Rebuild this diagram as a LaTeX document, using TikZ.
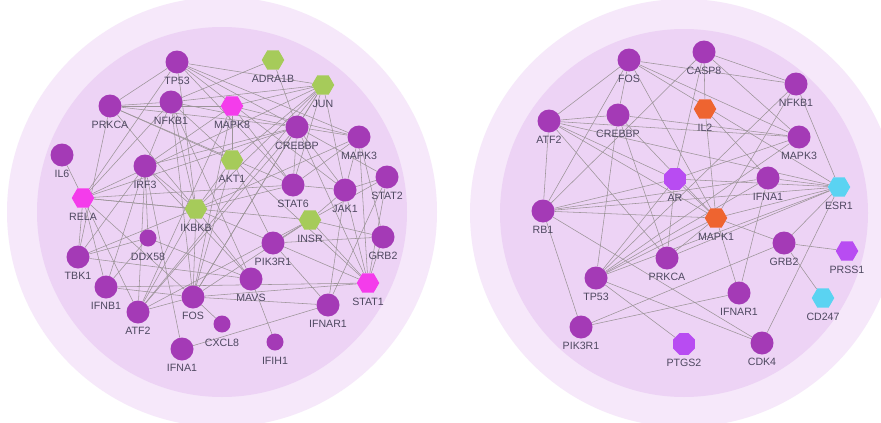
\documentclass[tikz,border=0pt]{standalone}
\usepackage{fontspec}
\setmainfont{Liberation Sans}
\usetikzlibrary{shapes.geometric}
\pgfdeclarelayer{bg}
\pgfdeclarelayer{edgelayer}
\pgfsetlayers{bg,edgelayer,main}
\definecolor{outerring}{HTML}{F6E8FA}
\definecolor{innerdisc}{HTML}{EDD3F5}
\definecolor{nodepurple}{HTML}{A43AB6}
\definecolor{nodemagenta}{HTML}{F43CEB}
\definecolor{nodegreen}{HTML}{A6CB5A}
\definecolor{nodeorange}{HTML}{EE6430}
\definecolor{nodecyan}{HTML}{5AD3F2}
\definecolor{nodeviolet}{HTML}{B84CF2}
\definecolor{labelc}{HTML}{4E4860}
\definecolor{edgec}{HTML}{9C9498}
\tikzset{
  pc/.style={circle, fill=nodepurple, minimum size=23pt, inner sep=0pt},
  sc/.style={circle, fill=nodepurple, minimum size=17pt, inner sep=0pt},
  hx/.style={regular polygon, regular polygon sides=6, minimum size=22.5pt, inner sep=0pt},
  oc/.style={regular polygon, regular polygon sides=8, minimum size=23.5pt, inner sep=0pt},
  lab/.style={font=\fontsize{10.6}{12}\selectfont, text=labelc, inner sep=0pt},
  edgeline/.style={draw=edgec, line width=0.55pt},
}
\newcommand\gene[5]{%
  \node[#4] (#1) at (#2,#3) {};
  \node[lab] (#1-l) at (#2,#3+18.5) {#5};}
\begin{document}
\begin{tikzpicture}[x=1pt,y=-1pt]
\useasboundingbox (0,0) rectangle (881,423);
\clip (0,0) rectangle (881,423);
\begin{pgfonlayer}{bg}
  \fill[white] (0,0) rectangle (881,423);
  \fill[outerring] (222,212) circle[radius=215];
  \fill[innerdisc] (222,212) circle[radius=185];
  \fill[outerring] (684,213) circle[radius=214];
  \fill[innerdisc] (684,213) circle[radius=184];
\end{pgfonlayer}
% ---------------- left network ----------------
\gene{L-TP53}{177}{62}{pc}{TP53}
\gene{L-ADRA1B}{273}{60}{hx,fill=nodegreen}{ADRA1B}
\gene{L-JUN}{323}{85}{hx,fill=nodegreen}{JUN}
\gene{L-PRKCA}{110}{106}{pc}{PRKCA}
\gene{L-NFKB1}{171}{102}{pc}{NFKB1}
\gene{L-MAPK8}{232}{106}{hx,fill=nodemagenta}{MAPK8}
\gene{L-CREBBP}{297}{127}{pc}{CREBBP}
\gene{L-MAPK3}{359}{137}{pc}{MAPK3}
\gene{L-IL6}{62}{155}{pc}{IL6}
\gene{L-IRF3}{145}{166}{pc}{IRF3}
\gene{L-AKT1}{232}{160}{hx,fill=nodegreen}{AKT1}
\gene{L-STAT6}{293}{185}{pc}{STAT6}
\gene{L-JAK1}{345}{190}{pc}{JAK1}
\gene{L-STAT2}{387}{177}{pc}{STAT2}
\gene{L-RELA}{83}{198}{hx,fill=nodemagenta}{RELA}
\gene{L-IKBKB}{196}{209}{hx,fill=nodegreen}{IKBKB}
\gene{L-INSR}{310}{220}{hx,fill=nodegreen}{INSR}
\gene{L-GRB2}{383}{237}{pc}{GRB2}
\gene{L-DDX58}{148}{238}{sc}{DDX58}
\gene{L-PIK3R1}{273}{243}{pc}{PIK3R1}
\gene{L-TBK1}{78}{257}{pc}{TBK1}
\gene{L-IFNB1}{106}{287}{pc}{IFNB1}
\gene{L-MAVS}{251}{279}{pc}{MAVS}
\gene{L-STAT1}{368}{283}{hx,fill=nodemagenta}{STAT1}
\gene{L-FOS}{193}{297}{pc}{FOS}
\gene{L-ATF2}{138}{312}{pc}{ATF2}
\gene{L-IFNAR1}{328}{305}{pc}{IFNAR1}
\gene{L-CXCL8}{222}{324}{sc}{CXCL8}
\gene{L-IFIH1}{275}{342}{sc}{IFIH1}
\gene{L-IFNA1}{182}{349}{pc}{IFNA1}
% ---------------- right network ----------------
\gene{R-FOS}{629}{60}{pc}{FOS}
\gene{R-CASP8}{704}{52}{pc}{CASP8}
\gene{R-NFKB1}{796}{84}{pc}{NFKB1}
\gene{R-IL2}{705}{109}{hx,fill=nodeorange}{IL2}
\gene{R-ATF2}{549}{121}{pc}{ATF2}
\gene{R-CREBBP}{618}{115}{pc}{CREBBP}
\gene{R-MAPK3}{799}{137}{pc}{MAPK3}
\gene{R-AR}{675}{179}{oc,fill=nodeviolet}{AR}
\gene{R-IFNA1}{768}{178}{pc}{IFNA1}
\gene{R-ESR1}{839}{187}{hx,fill=nodecyan}{ESR1}
\gene{R-RB1}{543}{211}{pc}{RB1}
\gene{R-MAPK1}{716}{218}{hx,fill=nodeorange}{MAPK1}
\gene{R-GRB2}{784}{243}{pc}{GRB2}
\gene{R-PRSS1}{847}{251}{hx,fill=nodeviolet}{PRSS1}
\gene{R-PRKCA}{667}{258}{pc}{PRKCA}
\gene{R-TP53}{596}{278}{pc}{TP53}
\gene{R-IFNAR1}{739}{293}{pc}{IFNAR1}
\gene{R-CD247}{823}{298}{hx,fill=nodecyan}{CD247}
\gene{R-PIK3R1}{581}{327}{pc}{PIK3R1}
\gene{R-PTGS2}{684}{344}{oc,fill=nodeviolet}{PTGS2}
\gene{R-CDK4}{762}{343}{pc}{CDK4}
\begin{pgfonlayer}{edgelayer}
\foreach \a/\b in {
 TP53/PRKCA, TP53/CREBBP, TP53/MAPK3, TP53/JUN, TP53/STAT6, TP53/IKBKB, TP53/JAK1, TP53/RELA,
 PRKCA/NFKB1, PRKCA/MAPK8, PRKCA/CREBBP, PRKCA/TBK1, PRKCA/IKBKB, PRKCA/STAT6, PRKCA/AKT1,
 NFKB1/IKBKB, NFKB1/FOS, NFKB1/RELA, NFKB1/IRF3, NFKB1/CREBBP, NFKB1/JUN, NFKB1/MAVS, NFKB1/STAT1, NFKB1/ADRA1B,
 MAPK8/JUN, MAPK8/ATF2, MAPK8/FOS, MAPK8/STAT6, MAPK8/IRF3, MAPK8/MAPK3,
 ADRA1B/CREBBP,
 JUN/CREBBP, JUN/JAK1, JUN/FOS, JUN/ATF2, JUN/IKBKB, JUN/RELA, JUN/STAT6,
 CREBBP/MAPK3, CREBBP/STAT6, CREBBP/STAT1, CREBBP/IRF3, CREBBP/RELA, CREBBP/ATF2, CREBBP/FOS, CREBBP/STAT2, CREBBP/JAK1,
 MAPK3/STAT1, MAPK3/GRB2, MAPK3/IKBKB, MAPK3/STAT6, MAPK3/JAK1,
 IL6/RELA,
 IRF3/TBK1, IRF3/IKBKB, IRF3/MAVS, IRF3/IFNB1, IRF3/DDX58, IRF3/ATF2, IRF3/IFNA1,
 AKT1/MAPK8, AKT1/IKBKB, AKT1/PIK3R1, AKT1/JUN, AKT1/FOS,
 STAT6/JAK1, STAT6/IKBKB, STAT6/RELA,
 JAK1/STAT2, JAK1/STAT1, JAK1/IFNAR1, JAK1/INSR,
 STAT2/STAT1, STAT2/IFNAR1, STAT2/INSR,
 RELA/TBK1, RELA/IKBKB, RELA/IFNB1, RELA/FOS, RELA/ATF2, RELA/INSR,
 IKBKB/FOS, IKBKB/TBK1, IKBKB/MAVS, IKBKB/STAT1, IKBKB/ATF2,
 INSR/GRB2, INSR/PIK3R1, INSR/STAT1, INSR/ATF2, INSR/FOS,
 GRB2/PIK3R1, GRB2/STAT1,
 DDX58/MAVS, DDX58/IFNB1, DDX58/TBK1,
 PIK3R1/IFNAR1,
 TBK1/MAVS,
 IFNB1/FOS, IFNB1/STAT1,
 MAVS/IFIH1,
 FOS/ATF2, FOS/CXCL8, FOS/STAT1, FOS/IFNAR1,
 IFNAR1/IFNA1}
 \draw[edgeline] (L-\a) -- (L-\b);
\foreach \a/\b in {
 FOS/ATF2, FOS/NFKB1, FOS/MAPK3, FOS/ESR1, FOS/CREBBP, FOS/MAPK1, FOS/RB1,
 CASP8/NFKB1, CASP8/IL2, CASP8/AR, CASP8/RB1, CASP8/MAPK3,
 IL2/MAPK1, IL2/IFNA1,
 NFKB1/ESR1, NFKB1/MAPK1, NFKB1/TP53,
 ATF2/CREBBP, ATF2/MAPK3, ATF2/ESR1, ATF2/AR, ATF2/MAPK1, ATF2/RB1, ATF2/PRKCA,
 CREBBP/MAPK3, CREBBP/TP53, CREBBP/MAPK1, CREBBP/PRKCA,
 AR/ESR1, AR/RB1, AR/MAPK1, AR/TP53, AR/PRKCA, AR/MAPK3,
 MAPK3/TP53,
 IFNA1/IFNAR1, IFNA1/ESR1, IFNA1/TP53,
 RB1/ESR1, RB1/MAPK1, RB1/PIK3R1, RB1/CDK4, RB1/IFNA1,
 MAPK1/ESR1, MAPK1/GRB2, MAPK1/IFNAR1, MAPK1/TP53, MAPK1/PRKCA,
 GRB2/ESR1, GRB2/PRSS1, GRB2/CD247, GRB2/PIK3R1,
 TP53/ESR1, TP53/PTGS2, TP53/CDK4,
 PIK3R1/IFNAR1,
 CDK4/ESR1,
 PRKCA/ESR1}
 \draw[edgeline] (R-\a) -- (R-\b);
\end{pgfonlayer}
\end{tikzpicture}
\end{document}
